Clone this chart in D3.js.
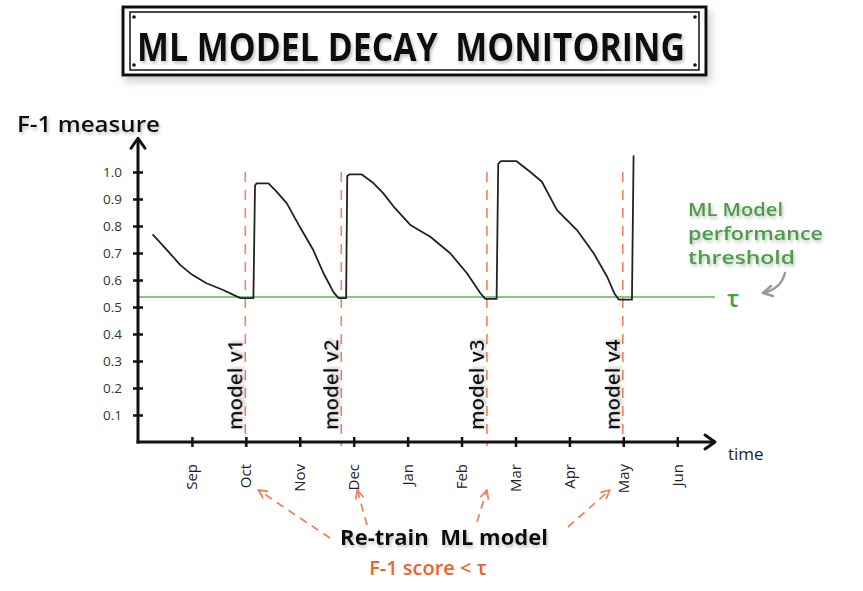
<!DOCTYPE html>
<html>
<head>
<meta charset="utf-8">
<script src="https://cdn.jsdelivr.net/npm/d3@7"></script>
<style>
  body { margin: 0; background: #fff; }
  svg { display: block; }
</style>
</head>
<body>
<svg id="chart" width="863" height="591"></svg>
<script>
// ---- data ----
const months = ['Sep', 'Oct', 'Nov', 'Dec', 'Jan', 'Feb', 'Mar', 'Apr', 'May', 'Jun'];
const monthIndex = [1, 2, 3, 4, 5, 6, 7, 8, 9, 10]; // Aug = 0 at the origin
const yTicks = [0.1, 0.2, 0.3, 0.4, 0.5, 0.6, 0.7, 0.8, 0.9, 1.0];

// F-1 trace (month position, value)
const curveMonth = [
  0.28, 0.45, 0.65, 0.78, 1.0, 1.27, 1.58, 1.80, 1.90, 2.14,
  2.17, 2.20, 2.42, 2.57, 2.76, 3.0, 3.25, 3.44, 3.63, 3.72, 3.86,
  3.88, 3.92, 4.15, 4.37, 4.55, 4.74, 5.05, 5.42, 5.79, 6.10, 6.35, 6.44, 6.65,
  6.68, 6.73, 7.02, 7.27, 7.49, 7.77, 8.14, 8.45, 8.70, 8.84, 8.92, 9.16,
  9.19
];
const curveF1 = [
  0.767, 0.73, 0.686, 0.656, 0.62, 0.588, 0.563, 0.542, 0.533, 0.533,
  0.95, 0.958, 0.958, 0.927, 0.884, 0.797, 0.711, 0.625, 0.553, 0.533, 0.533,
  0.985, 0.991, 0.991, 0.958, 0.921, 0.872, 0.804, 0.760, 0.699, 0.625, 0.551, 0.530, 0.530,
  1.03, 1.04, 1.04, 1.001, 0.964, 0.859, 0.785, 0.699, 0.612, 0.548, 0.527, 0.527,
  1.059
];

const threshold = 0.537;
const retrainMonth = [1.99, 3.77, 6.47, 8.99];
const modelLabels = ['model v1', 'model v2', 'model v3', 'model v4'];
const thresholdLines = ['ML Model', 'performance', 'threshold'];
const thresholdWidths = [95, 135, 107];

// ---- setup ----
const FONT = "'Open Sans', 'DejaVu Sans', sans-serif";
const RED = '#f0825f';
const GREEN = '#4a9e48';

const svg = d3.select('#chart');
const defs = svg.append('defs');

defs.append('filter').attr('id', 'txtShadow')
  .attr('x', '-20%').attr('y', '-40%').attr('width', '140%').attr('height', '180%')
  .append('feDropShadow')
  .attr('dx', 1.5).attr('dy', 2.5).attr('stdDeviation', 1.6)
  .attr('flood-color', '#888').attr('flood-opacity', 0.5);

defs.append('filter').attr('id', 'boxShadow')
  .attr('x', '-10%').attr('y', '-30%').attr('width', '120%').attr('height', '160%')
  .append('feDropShadow')
  .attr('dx', 3).attr('dy', 5).attr('stdDeviation', 4)
  .attr('flood-color', '#999').attr('flood-opacity', 0.5);

const x = d3.scaleLinear().domain([0, 10.7]).range([138, 715]);
const y = d3.scaleLinear().domain([0, 1]).range([442, 172]);

// ---- title box ----
const title = svg.append('g');
title.append('rect')
  .attr('x', 123).attr('y', 7).attr('width', 583).attr('height', 68)
  .attr('fill', '#fff').attr('stroke', '#111').attr('stroke-width', 3)
  .attr('filter', 'url(#boxShadow)');
title.append('rect')
  .attr('x', 130).attr('y', 12).attr('width', 569).attr('height', 58)
  .attr('fill', 'none').attr('stroke', '#111').attr('stroke-width', 1.5);
[[134, 17], [134, 65], [695, 17], [695, 65]].forEach(([cx, cy]) => {
  title.append('circle').attr('cx', cx).attr('cy', cy).attr('r', 1.8).attr('fill', '#111');
});
title.append('text')
  .attr('x', 137).attr('y', 61)
  .attr('textLength', 548).attr('lengthAdjust', 'spacingAndGlyphs')
  .style('white-space', 'pre')
  .attr('font-family', FONT).attr('font-size', 40).attr('font-weight', 700)
  .attr('fill', '#111').attr('filter', 'url(#txtShadow)')
  .text('ML MODEL DECAY  MONITORING');

// ---- threshold line ----
svg.append('line')
  .attr('x1', x(0)).attr('x2', x(10.7))
  .attr('y1', y(threshold)).attr('y2', y(threshold))
  .attr('stroke', '#5cb85a').attr('stroke-width', 1.5);

// ---- re-train markers ----
svg.selectAll('.retrain')
  .data(retrainMonth)
  .join('line')
  .attr('class', 'retrain')
  .attr('x1', (d) => x(d)).attr('x2', (d) => x(d))
  .attr('y1', y(1.0)).attr('y2', y(0) + 4)
  .attr('stroke', RED).attr('stroke-width', 1.6)
  .attr('stroke-dasharray', '10 8');

svg.selectAll('.model-label')
  .data(retrainMonth)
  .join('text')
  .attr('class', 'model-label')
  .attr('transform', (d) => `translate(${x(d) - 3}, 430) rotate(-90)`)
  .attr('font-family', FONT).attr('font-size', 20.5).attr('font-weight', 600)
  .attr('fill', '#111').attr('filter', 'url(#txtShadow)')
  .text((d, i) => modelLabels[i]);

// ---- F-1 trace ----
const points = curveMonth.map((m, i) => [m, curveF1[i]]);
svg.append('path')
  .datum(points)
  .attr('fill', 'none')
  .attr('stroke', '#222')
  .attr('stroke-width', 1.8)
  .attr('stroke-linejoin', 'round')
  .attr('stroke-linecap', 'round')
  .attr('d', d3.line()
    .x((d) => x(d[0]))
    .y((d) => y(d[1])));

// ---- y axis ----
const yAxis = svg.append('g')
  .attr('transform', `translate(${x(0)}, 0)`)
  .call(d3.axisLeft(y).tickValues(yTicks).tickFormat(d3.format('.1f')).tickSize(5).tickPadding(11));
yAxis.select('.domain').remove();
yAxis.selectAll('.tick line').attr('x1', -5).attr('x2', 5).attr('stroke', '#111').attr('stroke-width', 2.5);
yAxis.selectAll('.tick text')
  .attr('font-family', FONT).attr('font-size', 13.5).attr('fill', '#333');

svg.append('path')
  .attr('d', `M${x(0)},${y(0) + 1.5}V${y(1.125)}`)
  .attr('stroke', '#111').attr('stroke-width', 3).attr('fill', 'none');
svg.append('path')
  .attr('d', `M${x(0) - 7},${y(1.125) + 10}L${x(0)},${y(1.125)}L${x(0) + 7},${y(1.125) + 10}`)
  .attr('stroke', '#111').attr('stroke-width', 3).attr('fill', 'none')
  .attr('stroke-linecap', 'round').attr('stroke-linejoin', 'round');

svg.append('text')
  .attr('x', 17).attr('y', 132)
  .attr('textLength', 143).attr('lengthAdjust', 'spacingAndGlyphs')
  .attr('font-family', FONT).attr('font-size', 21).attr('font-weight', 600)
  .attr('fill', '#111').attr('filter', 'url(#txtShadow)')
  .text('F-1 measure');

// ---- x axis ----
const xAxis = svg.append('g')
  .attr('transform', `translate(0, ${y(0)})`)
  .call(d3.axisBottom(x).tickValues(monthIndex).tickFormat((d, i) => months[i]).tickSize(5));
xAxis.select('.domain').remove();
xAxis.selectAll('.tick line').attr('y1', -5).attr('y2', 5).attr('stroke', '#111').attr('stroke-width', 2.5);
xAxis.selectAll('.tick text')
  .attr('transform', 'rotate(-90)')
  .attr('text-anchor', 'end')
  .attr('x', -22).attr('y', 0).attr('dy', '0.32em')
  .attr('font-family', FONT).attr('font-size', 15).attr('fill', '#222');

svg.append('path')
  .attr('d', `M${x(0) - 1.5},${y(0)}H${x(10.7)}`)
  .attr('stroke', '#111').attr('stroke-width', 3).attr('fill', 'none');
svg.append('path')
  .attr('d', `M${x(10.7) - 10},${y(0) - 7}L${x(10.7)},${y(0)}L${x(10.7) - 10},${y(0) + 7}`)
  .attr('stroke', '#111').attr('stroke-width', 3).attr('fill', 'none')
  .attr('stroke-linecap', 'round').attr('stroke-linejoin', 'round');

svg.append('text')
  .attr('x', x(10.7) + 13).attr('y', y(0) + 18)
  .attr('font-family', FONT).attr('font-size', 17)
  .attr('fill', '#222')
  .text('time');

// ---- threshold annotation ----
svg.selectAll('.thr-label')
  .data(thresholdLines)
  .join('text')
  .attr('class', 'thr-label')
  .attr('x', 688)
  .attr('y', (d, i) => 216 + i * 24)
  .attr('textLength', (d, i) => thresholdWidths[i])
  .attr('lengthAdjust', 'spacingAndGlyphs')
  .attr('font-family', FONT).attr('font-size', 17.5).attr('font-weight', 600)
  .attr('fill', GREEN).attr('filter', 'url(#txtShadow)')
  .text((d) => d);

svg.append('text')
  .attr('x', x(10.7) + 12).attr('y', y(threshold) + 10)
  .attr('font-family', FONT).attr('font-size', 24).attr('font-weight', 600)
  .attr('fill', GREEN)
  .text('τ');

svg.append('path')
  .attr('d', `M${x(10.7) + 70},${y(threshold) - 24}Q${x(10.7) + 66},${y(threshold) - 8} ${x(10.7) + 48},${y(threshold) - 4}`)
  .attr('stroke', '#9a9a9a').attr('stroke-width', 2.5).attr('fill', 'none').attr('stroke-linecap', 'round');
svg.append('path')
  .attr('d', `M${x(10.7) + 56},${y(threshold) - 11}L${x(10.7) + 48},${y(threshold) - 4}L${x(10.7) + 58},${y(threshold) - 1}`)
  .attr('stroke', '#9a9a9a').attr('stroke-width', 2.5).attr('fill', 'none')
  .attr('stroke-linecap', 'round').attr('stroke-linejoin', 'round');

// ---- re-train annotation ----
svg.append('text')
  .attr('x', 444).attr('y', 545)
  .attr('text-anchor', 'middle')
  .style('white-space', 'pre')
  .attr('font-family', FONT).attr('font-size', 22).attr('font-weight', 700)
  .attr('fill', '#111').attr('filter', 'url(#txtShadow)')
  .text('Re-train  ML model');

svg.append('text')
  .attr('x', 428).attr('y', 575)
  .attr('text-anchor', 'middle')
  .attr('font-family', FONT).attr('font-size', 20).attr('font-weight', 600)
  .attr('fill', '#f0622f')
  .text('F-1 score < τ');

// arrows from the note to each re-train point
const arrowStart = [[330, 538], [367, 525], [477, 522], [568, 527]];
const arrowDx = [13, 16, 0, -13];
retrainMonth.forEach((m, i) => {
  const [sx, sy] = arrowStart[i];
  const tx = x(m) + arrowDx[i];
  const ty = 490;
  const ang = Math.atan2(ty - sy, tx - sx);
  const len = 9;
  svg.append('line')
    .attr('x1', sx).attr('y1', sy).attr('x2', tx).attr('y2', ty)
    .attr('stroke', RED).attr('stroke-width', 1.8).attr('stroke-dasharray', '8 6');
  const a1 = ang + Math.PI - 0.45;
  const a2 = ang + Math.PI + 0.45;
  svg.append('path')
    .attr('d', `M${tx + len * Math.cos(a1)},${ty + len * Math.sin(a1)}L${tx},${ty}L${tx + len * Math.cos(a2)},${ty + len * Math.sin(a2)}`)
    .attr('stroke', RED).attr('stroke-width', 1.8).attr('fill', 'none')
    .attr('stroke-linecap', 'round').attr('stroke-linejoin', 'round');
});
</script>
</body>
</html>
